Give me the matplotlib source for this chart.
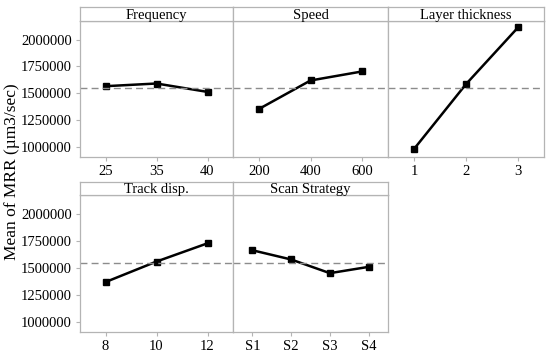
import matplotlib
matplotlib.use('Agg')
import matplotlib.pyplot as plt

plt.rcParams['font.family'] = ['Liberation Serif', 'DejaVu Serif']

# main effects data
freq_levels = ['25', '35', '40']
freq_means = [1567000, 1592000, 1514000]
speed_levels = ['200', '400', '600']
speed_means = [1355000, 1620000, 1704000]
layer_levels = ['1', '2', '3']
layer_means = [984000, 1586000, 2112000]
track_levels = ['8', '10', '12']
track_means = [1370000, 1559000, 1727000]
scan_levels = ['S1', 'S2', 'S3', 'S4']
scan_means = [1663000, 1578000, 1452000, 1510000]
grand_mean = 1550000

panels = [
    ('Frequency', freq_levels, freq_means),
    ('Speed', speed_levels, speed_means),
    ('Layer thickness', layer_levels, layer_means),
    ('Track disp.', track_levels, track_means),
    ('Scan Strategy', scan_levels, scan_means),
]

W, H = 550, 353
fig = plt.figure(figsize=(W / 100, H / 100), dpi=100)

edge = '#b4b4b4'
col_x = [80, 233, 388, 544]
rows = [(21, 157, 7), (195, 332, 182)]  # (plot top, plot bottom, strip top) in px


def px_rect(x0, x1, y0, y1):
    return [x0 / W, 1 - y1 / H, (x1 - x0) / W, (y1 - y0) / H]


for i, (name, levels, means) in enumerate(panels):
    r, c = divmod(i, 3)
    top, bot, stop = rows[r]
    ax = fig.add_axes(px_rect(col_x[c], col_x[c + 1], top, bot))
    pos = list(range(len(levels)))
    ax.plot(pos, means, color='black', lw=1.8, marker='s', ms=4.5)
    ax.axhline(grand_mean, color='#8c8c8c', lw=1, ls=(0, (5, 3)))
    ax.set_xlim(-0.5, len(levels) - 0.5)
    ax.set_ylim(910000, 2172000)
    ax.set_xticks(pos)
    ax.set_xticklabels(levels)
    ax.set_yticks([1000000, 1250000, 1500000, 1750000, 2000000])
    ax.set_yticklabels(['1000000', '1250000', '1500000', '1750000', '2000000'])
    ax.tick_params(labelsize=10.5, color=edge, length=3, pad=3)
    if c != 0:
        ax.tick_params(axis='y', left=False, labelleft=False)
    for s in ax.spines.values():
        s.set_color(edge)
        s.set_linewidth(0.9)

    sax = fig.add_axes(px_rect(col_x[c], col_x[c + 1], stop, top))
    sax.set_xticks([])
    sax.set_yticks([])
    for s in sax.spines.values():
        s.set_color(edge)
        s.set_linewidth(0.9)
    sax.text(0.5, 0.4, name, ha='center', va='center', fontsize=10.5,
             transform=sax.transAxes)

fig.text(12 / W, 1 - 172 / H, 'Mean of MRR (\u00b5m3/sec)', rotation=90,
         ha='center', va='center', fontsize=12.5)

fig.savefig('out.png', dpi=100)
